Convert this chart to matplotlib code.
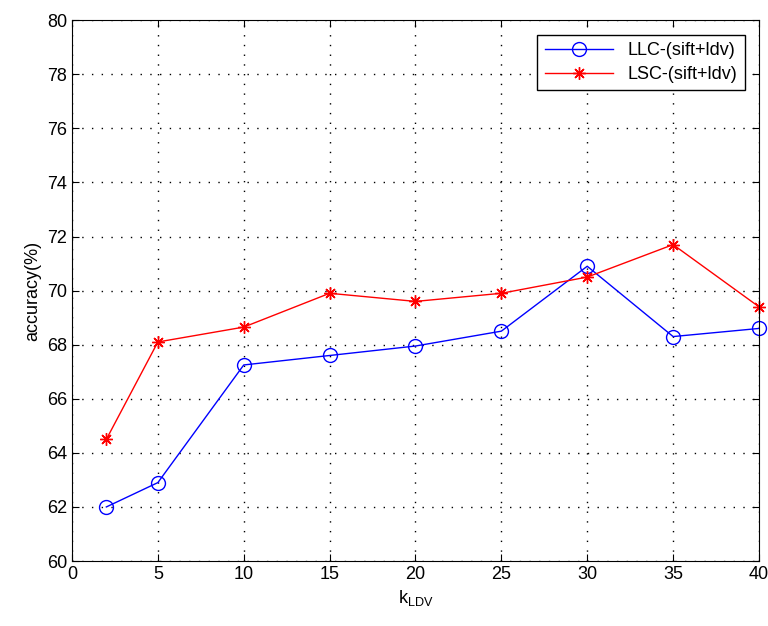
import numpy as np
import matplotlib.pyplot as plt

plt.rcParams['font.family'] = ['Liberation Sans', 'DejaVu Sans']

k_ldv = [2, 5, 10, 15, 20, 25, 30, 35, 40]
llc_acc = [62.0, 62.9, 67.25, 67.6, 67.95, 68.5, 70.9, 68.3, 68.6]
lsc_acc = [64.5, 68.1, 68.65, 69.9, 69.6, 69.9, 70.5, 71.7, 69.4]

fig = plt.figure(figsize=(7.68, 6.26), dpi=100)
ax = fig.add_axes([0.09375, 0.1038, 0.8945, 0.864])

ax.plot(k_ldv, llc_acc, color='blue', marker='o', markersize=10,
        markerfacecolor='none', markeredgecolor='blue', linewidth=1,
        label='LLC-(sift+ldv)', clip_on=False)
ax.plot(k_ldv, lsc_acc, color='red', marker=(8, 2, 0), markersize=9,
        markeredgewidth=1, linewidth=1,
        label='LSC-(sift+ldv)', clip_on=False)

ax.set_xlim(0, 40)
ax.set_ylim(60, 80)
ax.set_xticks(np.arange(0, 41, 5))
ax.set_yticks(np.arange(60, 81, 2))
ax.grid(True, color='black', linestyle=(0, (1, 6)), linewidth=1)
ax.tick_params(direction='in', top=True, right=True, labelsize=13, length=5)
ax.set_xlabel('k$_{\\mathregular{LDV}}$', fontsize=13)
ax.set_ylabel('accuracy(%)', fontsize=13)

leg = ax.legend(loc='upper right', fontsize=13, fancybox=False,
                edgecolor='black', framealpha=1, borderaxespad=0.8,
                handlelength=3.8, labelspacing=0.4, borderpad=0.4)
leg.get_frame().set_linewidth(1)

fig.savefig('out.png', dpi=100)
